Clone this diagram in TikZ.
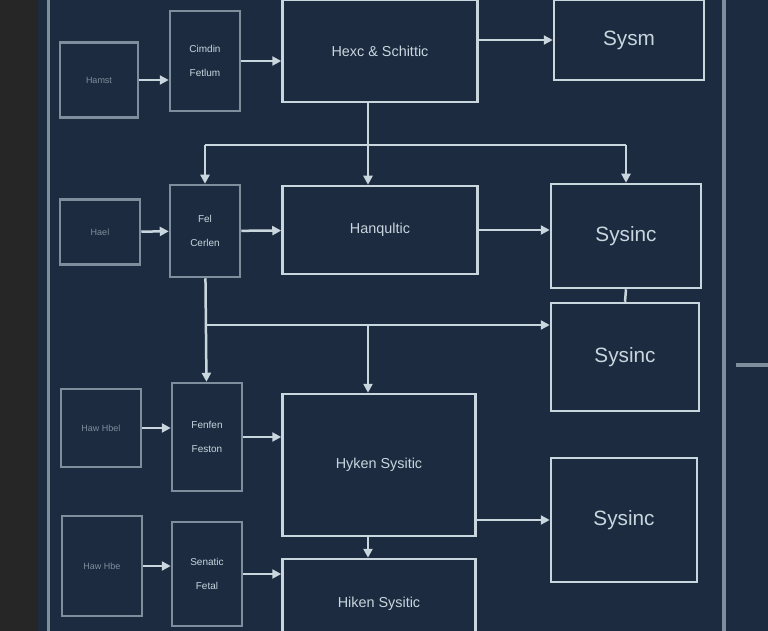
\documentclass[tikz,border=0pt]{standalone}
\usepackage{fontspec}
\setmainfont{Liberation Sans}
\usetikzlibrary{arrows.meta,positioning}
\definecolor{screen}{HTML}{1C2B40}
\definecolor{ink}{HTML}{C9D6DE}
\definecolor{dim}{HTML}{7F8E9C}
\begin{document}
\begin{tikzpicture}[x=1pt,y=-1pt,
  box/.style={draw=ink, line width=2.5pt, fill=screen, align=center, text=ink, font=\large, inner sep=0pt},
  small/.style={draw=dim, line width=2.5pt, fill=screen, align=center, text=dim, font=\small, inner sep=0pt},
  link/.style={draw=ink, line width=2.5pt, -{Triangle[length=9pt,width=9pt]}},
  wire/.style={draw=ink, line width=2.5pt},
]
  \useasboundingbox (0,0) rectangle (768,631);
  \fill[screen] (0,0) rectangle (768,631);
  \fill[black!85] (0,0) rectangle (38,631);
  \draw[dim, line width=3pt] (48,0) -- (48,631);
  \draw[dim, line width=4pt] (724,0) -- (724,631);
  \draw[dim, line width=4pt] (736,365) -- (768,365);

  % far left column
  \node[small, minimum width=78, minimum height=75] (hamst) at (99,80) {Hamst};
  \node[small, minimum width=80, minimum height=65] (hael) at (100,232) {Hael};
  \node[small, minimum width=80, minimum height=78] (hawa) at (101,428) {Haw Hbel};
  \node[small, minimum width=80, minimum height=100] (hawb) at (102,566) {Haw Hbe};

  % second column
  \node[small, minimum width=70, minimum height=100, text=ink, font=\normalsize] (cimdin) at (205,61) {Cimdin\\[12pt]Fetlum};
  \node[small, minimum width=70, minimum height=92, text=ink, font=\normalsize] (fel) at (205,231) {Fel\\[12pt]Cerlen};
  \node[small, minimum width=70, minimum height=108, text=ink, font=\normalsize] (fenfen) at (207,437) {Fenfen\\[12pt]Feston};
  \node[small, minimum width=70, minimum height=104, text=ink, font=\normalsize] (senatic) at (207,574) {Senatic\\[12pt]Fetal};

  % main column
  \node[box, minimum width=195, minimum height=102, font=\Large] (hexc) at (380,51) {Hexc \& Schittic};
  \node[box, minimum width=195, minimum height=88, font=\Large] (hanq) at (380,230) {Hanqultic};
  \node[box, minimum width=193, minimum height=142, font=\Large] (hyken) at (379,465) {Hyken Sysitic};
  \node[box, minimum width=193, minimum height=90, font=\Large] (hiken) at (379,604) {Hiken Sysitic};

  % right column
  \node[box, minimum width=150, minimum height=80, font=\huge] (sysm) at (629,40) {Sysm};
  \node[box, minimum width=150, minimum height=104, font=\huge] (sysa) at (626,236) {Sysinc};
  \node[box, minimum width=148, minimum height=108, font=\huge] (sysb) at (625,357) {Sysinc};
  \node[box, minimum width=146, minimum height=124, font=\huge] (sysc) at (624,520) {Sysinc};

  \coordinate (split) at (368,145);
  \coordinate (fork) at (205,325);

  \draw[link] (hamst) -- (hamst -| cimdin.west);
  \draw[link] (hael) -- (fel);
  \draw[link] (hawa) -- (hawa -| fenfen.west);
  \draw[link] (hawb) -- (hawb -| senatic.west);
  \draw[link] (cimdin) -- (cimdin -| hexc.west);
  \draw[link] (fel) -- (hanq);
  \draw[link] (fenfen) -- (fenfen -| hyken.west);
  \draw[link] (senatic) -- (senatic -| hiken.west);
  \draw[link] (hexc.east |- sysm) -- (sysm);
  \draw[link] (hexc.south -| split) -- (hanq.north -| split);
  \draw[link] (split -| fel) -- (fel);
  \draw[wire] (split -| fel) -- (split -| sysa.north);
  \draw[link] (split -| sysa.north) -- (sysa.north);
  \draw[link] (hanq) -- (hanq -| sysa.west);
  \draw[link] (fel) -- (fenfen);
  \draw[link] (fork) -- (fork -| sysb.west);
  \draw[link] (fork -| split) -- (hyken.north -| split);
  \draw[wire] (sysa.south) -- (sysb.north);
  \draw[link] (sysc -| hyken.east) -- (sysc.west);
  \draw[link] (hyken.south -| split) -- (hiken.north -| split);
\end{tikzpicture}
\end{document}
